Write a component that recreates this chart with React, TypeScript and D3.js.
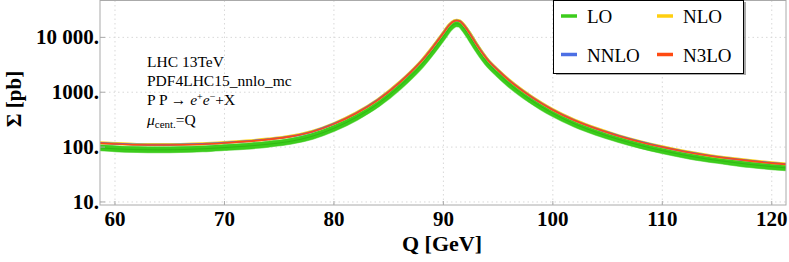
import * as d3 from "d3";

// invariant mass Q [GeV]
const qValues = [58.6, 60, 62, 64, 66, 68, 70, 72, 74, 76, 78, 80, 82, 84, 86, 87, 88, 89, 90, 90.5, 91, 91.2, 91.5, 92, 92.5, 93, 94, 95, 96, 97, 98, 99, 100, 102, 104, 106, 108, 110, 112, 114, 116, 118, 120, 121.3];

// cross sections [pb]
const loValues = [97, 93, 90, 89, 90, 93, 98, 104, 113, 127, 157, 220, 345, 610, 1280, 1970, 3190, 5620, 10400, 14300, 17400, 17800, 17300, 13600, 9600, 6630, 3480, 2170, 1430, 995, 717, 535, 410, 263, 185, 138, 107, 86, 71.5, 61, 54, 48.2, 44, 41.8];
const nloValues = [120, 116, 112, 111, 112, 115, 121, 129, 140, 157, 193, 269, 416, 731, 1523, 2335, 3755, 6600, 12180, 16750, 20200, 20600, 20000, 15730, 11160, 7710, 4060, 2540, 1675, 1167, 842, 629, 482, 310, 218, 162, 126, 101.5, 84, 72, 63.4, 56.8, 51.8, 49.2];
const nnloValues = [119, 115, 111, 110, 111, 114, 120, 128, 139, 156, 191, 266, 412, 724, 1508, 2312, 3718, 6530, 12060, 16580, 20000, 20400, 19800, 15580, 11050, 7640, 4020, 2510, 1658, 1156, 834, 623, 477, 307, 216, 161, 125, 100.5, 83.4, 71.4, 62.8, 56.3, 51.3, 48.7];
const n3loValues = [118, 114, 110, 109, 110, 113, 119, 127, 138, 155, 190, 265, 410, 720, 1500, 2300, 3700, 6500, 12000, 16500, 19900, 20300, 19700, 15500, 11000, 7600, 4000, 2500, 1650, 1150, 830, 620, 475, 305, 215, 160, 124, 100, 83, 71, 62.5, 56, 51, 48.5];

const xTicks = [60, 70, 80, 90, 100, 110, 120];
const yTicks = [10, 100, 1000, 10000];
const yTickLabels = ["10.", "100.", "1000.", "10 000."];

const series = [
  { name: "LO", values: loValues, color: "#3ccc1c", width: 6 },
  { name: "NLO", values: nloValues, color: "#ffcf10", width: 3 },
  { name: "NNLO", values: nnloValues, color: "#4c6fe4", width: 2 },
  { name: "N3LO", values: n3loValues, color: "#ff4a12", width: 1.6 },
];

const W = 789;
const H = 262;
const left = 100;
const right = 786;
const top = 0.5;
const bottom = 205;

export default function App() {
  const x = d3.scaleLinear().domain([58.63, 121.3]).range([left, right]);
  const y = d3.scaleLog().domain([8.8, 47000]).range([bottom, top]);

  const line = (vals: number[]) =>
    d3.line<number>()
      .x((d, i) => x(qValues[i]))
      .y(d => y(d))
      .curve(d3.curveMonotoneX)(vals) || "";

  const serif = "'Liberation Serif', 'Times New Roman', serif";

  return (
    <svg width={W} height={H} style={{ position: "absolute", left: 0, top: 0, background: "white" }} fontFamily={serif}>
      <defs>
        <clipPath id="plot">
          <rect x={left} y={top} width={right - left} height={bottom - top} />
        </clipPath>
      </defs>
      {/* grid */}
      {xTicks.map(t => (
        <line key={"gx" + t} x1={x(t)} x2={x(t)} y1={top} y2={bottom} stroke="#d8d8d8" strokeDasharray="1.5,3" />
      ))}
      {yTicks.map(t => (
        <line key={"gy" + t} x1={left} x2={right} y1={y(t)} y2={y(t)} stroke="#d8d8d8" strokeDasharray="1.5,3" />
      ))}
      {/* curves */}
      <g clipPath="url(#plot)" fill="none" strokeLinejoin="round">
        <path d={line(loValues)} stroke="#8ee07a" strokeWidth={7} />
        {series.map(s => (
          <path key={s.name} d={line(s.values)} stroke={s.color} strokeWidth={s.width} />
        ))}
        <path d={line(loValues)} stroke="#2cb010" strokeWidth={1} opacity={0.7} />
      </g>
      {/* frame */}
      <rect x={left} y={top} width={right - left} height={bottom - top} fill="none" stroke="#aaaaaa" strokeWidth={1} />
      {xTicks.map(t => (
        <line key={"tx" + t} x1={x(t)} x2={x(t)} y1={bottom} y2={bottom - 4} stroke="#aaaaaa" />
      ))}
      {yTicks.map(t => (
        <line key={"ty" + t} x1={left} x2={left + 5} y1={y(t)} y2={y(t)} stroke="#aaaaaa" />
      ))}
      {/* tick labels */}
      {xTicks.map(t => (
        <text key={"lx" + t} x={x(t)} y={226} textAnchor="middle" fontSize={21} fontWeight="bold">{t}</text>
      ))}
      {yTicks.map((t, i) => (
        <text key={"ly" + t} x={99} y={y(t) + 7} textAnchor="end" fontSize={21} fontWeight="bold">{yTickLabels[i]}</text>
      ))}
      {/* axis titles */}
      <text x={442} y={251} textAnchor="middle" fontSize={22} fontWeight="bold">Q [GeV]</text>
      <text transform="translate(21,99) rotate(-90)" textAnchor="middle" fontSize={21} fontWeight="bold">Σ [pb]</text>
      {/* annotation */}
      <g fontSize={15.5}>
        <text x={147} y={67}>LHC 13TeV</text>
        <text x={147} y={86}>PDF4LHC15_nnlo_mc</text>
        <text x={147} y={105}>P P → <tspan fontStyle="italic">e</tspan><tspan dy={-5} fontSize={10}>+</tspan><tspan dy={5} fontStyle="italic">e</tspan><tspan dy={-5} fontSize={10}>−</tspan><tspan dy={5}>+X</tspan></text>
        <text x={147} y={125}><tspan fontStyle="italic">μ</tspan><tspan dy={3} fontSize={11}>cent.</tspan><tspan dy={-3}>=Q</tspan></text>
      </g>
      {/* legend */}
      <rect x={556} y={2} width={190} height={73} fill="#555" opacity={0.5} />
      <rect x={553.5} y={0.5} width={190} height={73} fill="white" stroke="black" strokeWidth={1} />
      {series.map((s, i) => {
        const lx = i % 2 === 0 ? 561 : 657;
        const ly = i < 2 ? 16 : 54.5;
        return (
          <g key={"lg" + s.name}>
            <line x1={lx} x2={lx + 16} y1={ly} y2={ly} stroke={s.color} strokeWidth={3.5} />
            <text x={lx + 26} y={ly + 7} fontSize={19}>{s.name}</text>
          </g>
        );
      })}
    </svg>
  );
}
